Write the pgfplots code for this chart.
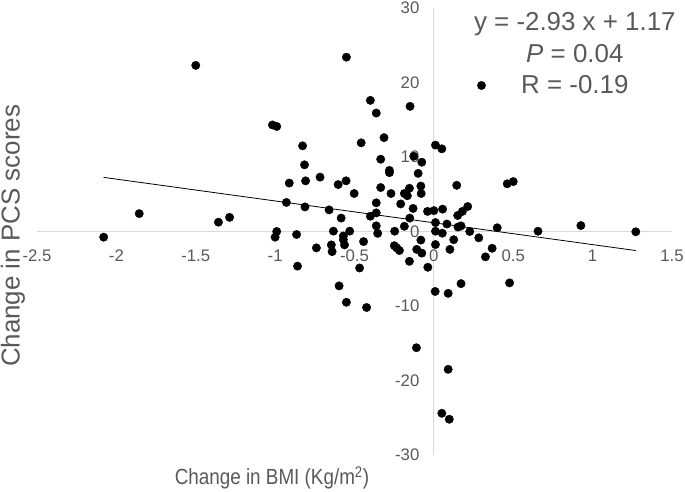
\documentclass[border=0pt]{standalone}
\usepackage{pgfplots}
\pgfplotsset{compat=1.18}
\usepackage{fontspec}
\setmainfont{Liberation Sans}
\newfontfamily\narrowfont[FakeStretch=0.86]{Liberation Sans}
\definecolor{txtgray}{HTML}{595959}
\definecolor{axgray}{HTML}{D9D9D9}
\begin{document}
\begin{tikzpicture}
\begin{axis}[
  scale only axis,
  width=635bp, height=447bp,
  xmin=-2.5, xmax=1.5, ymin=-30, ymax=30,
  axis lines=middle,
  axis line style={-, draw=axgray, line width=0.9bp},
  hide obscured x ticks=false,
  hide obscured y ticks=false,
  xtick={-2.5,-2,-1.5,-1,-0.5,0,0.5,1,1.5},
  ytick={-30,-20,-10,0,10,20,30},
  major tick length=0pt,
  tick style={draw=none},
  /pgf/number format/assume math mode=true,
  ticklabel style={font=\fontsize{16.8}{20}\selectfont, text=txtgray},
  xticklabel style={anchor=north, yshift=-15bp},
  yticklabel style={anchor=east, xshift=-11bp},
  xlabel={Change in BMI (Kg/m\textsuperscript{2})},
  ylabel={Change in PCS scores},
  xlabel style={at={(axis description cs:0.370,0)}, anchor=center, yshift=-23bp, font=\narrowfont\fontsize{22}{26}\selectfont, text=txtgray},
  ylabel style={at={(axis description cs:-0.0378,0.49)}, anchor=center, rotate=90, font=\fontsize{26}{31}\selectfont, text=txtgray},
  clip=false,
]
\addplot[only marks, mark=*, mark size=4.2bp, mark options={fill=black, draw=black}] coordinates {
(-2.08,-0.76) (-1.856,2.4) (-1.50,22.3) (-1.357,1.25) (-1.287,1.9)
(-1.017,14.3) (-0.99,14.1) (-0.99,0.0) (-1.0,-0.76) (-0.929,3.9)
(-0.911,6.5) (-0.865,-0.4) (-0.859,-4.65) (-0.827,11.5) (-0.815,8.95)
(-0.812,3.3) (-0.808,6.8) (-0.74,-2.2) (-0.717,7.3) (-0.66,2.9)
(-0.646,-1.8) (-0.641,-2.7) (-0.633,0.05) (-0.603,6.3) (-0.597,-7.3)
(-0.584,1.8) (-0.57,-0.6) (-0.57,-1.1) (-0.563,-1.8) (-0.553,6.8)
(-0.551,23.4) (-0.551,-9.5) (-0.53,0.05) (-0.502,5.1) (-0.468,-4.9)
(-0.458,11.9) (-0.443,-1.35) (-0.424,-10.2) (-0.40,17.6) (-0.40,2.05)
(-0.363,15.9) (-0.363,3.85) (-0.363,2.5) (-0.363,0.76) (-0.354,-0.25)
(-0.335,9.7) (-0.335,5.9) (-0.314,12.6) (-0.28,8.2) (-0.28,7.9)
(-0.27,5.1) (-0.247,0.04) (-0.249,-1.9) (-0.234,-2.2) (-0.217,-2.55)
(-0.209,3.7) (-0.186,5.1) (-0.186,0.7) (-0.167,4.8) (-0.154,5.8)
(-0.152,1.8) (-0.15,16.8) (-0.154,-4.0) (-0.131,3.1) (-0.127,10.1)
(-0.11,-15.6) (-0.108,-2.4) (-0.099,7.8) (-0.082,6.1) (-0.08,5.1)
(-0.082,-1.15) (-0.076,9.3) (-0.076,-2.9) (-0.04,2.7) (-0.038,-4.8)
(0.0,2.8) (0.01,11.6) (0.01,1.2) (0.01,0.04) (0.01,-1.75)
(0.008,-8.05) (0.05,11.1) (0.055,3.0) (0.053,-0.23) (0.05,-24.4)
(0.082,1.0) (0.09,-8.3) (0.09,-18.5) (0.097,-25.2) (0.101,-2.4)
(0.125,-1.1) (0.144,6.2) (0.15,2.15) (0.152,0.6) (0.171,0.75)
(0.18,2.7) (0.171,-7.0) (0.213,3.35) (0.226,0.0) (0.283,-0.85)
(0.30,19.6) (0.325,-3.4) (0.367,-2.25) (0.399,0.5) (0.462,6.4)
(0.5,6.7) (0.477,-6.9) (0.656,0.04) (0.926,0.8) (1.272,-0.04)
};
\addplot[black, line width=0.8bp, mark=none] coordinates {(-2.08,7.2644) (1.272,-2.5570)};
\node[align=center, text=txtgray, font=\fontsize{26}{31.5}\selectfont, anchor=center]
  at (axis cs:0.888,23.9) {y = -2.93 x + 1.17\\\textit{P} = 0.04\\R = -0.19};
\end{axis}
\pgfresetboundingbox
\path[use as bounding box] (-37bp,-37bp) rectangle (648bp,455bp);
\end{tikzpicture}
\end{document}
